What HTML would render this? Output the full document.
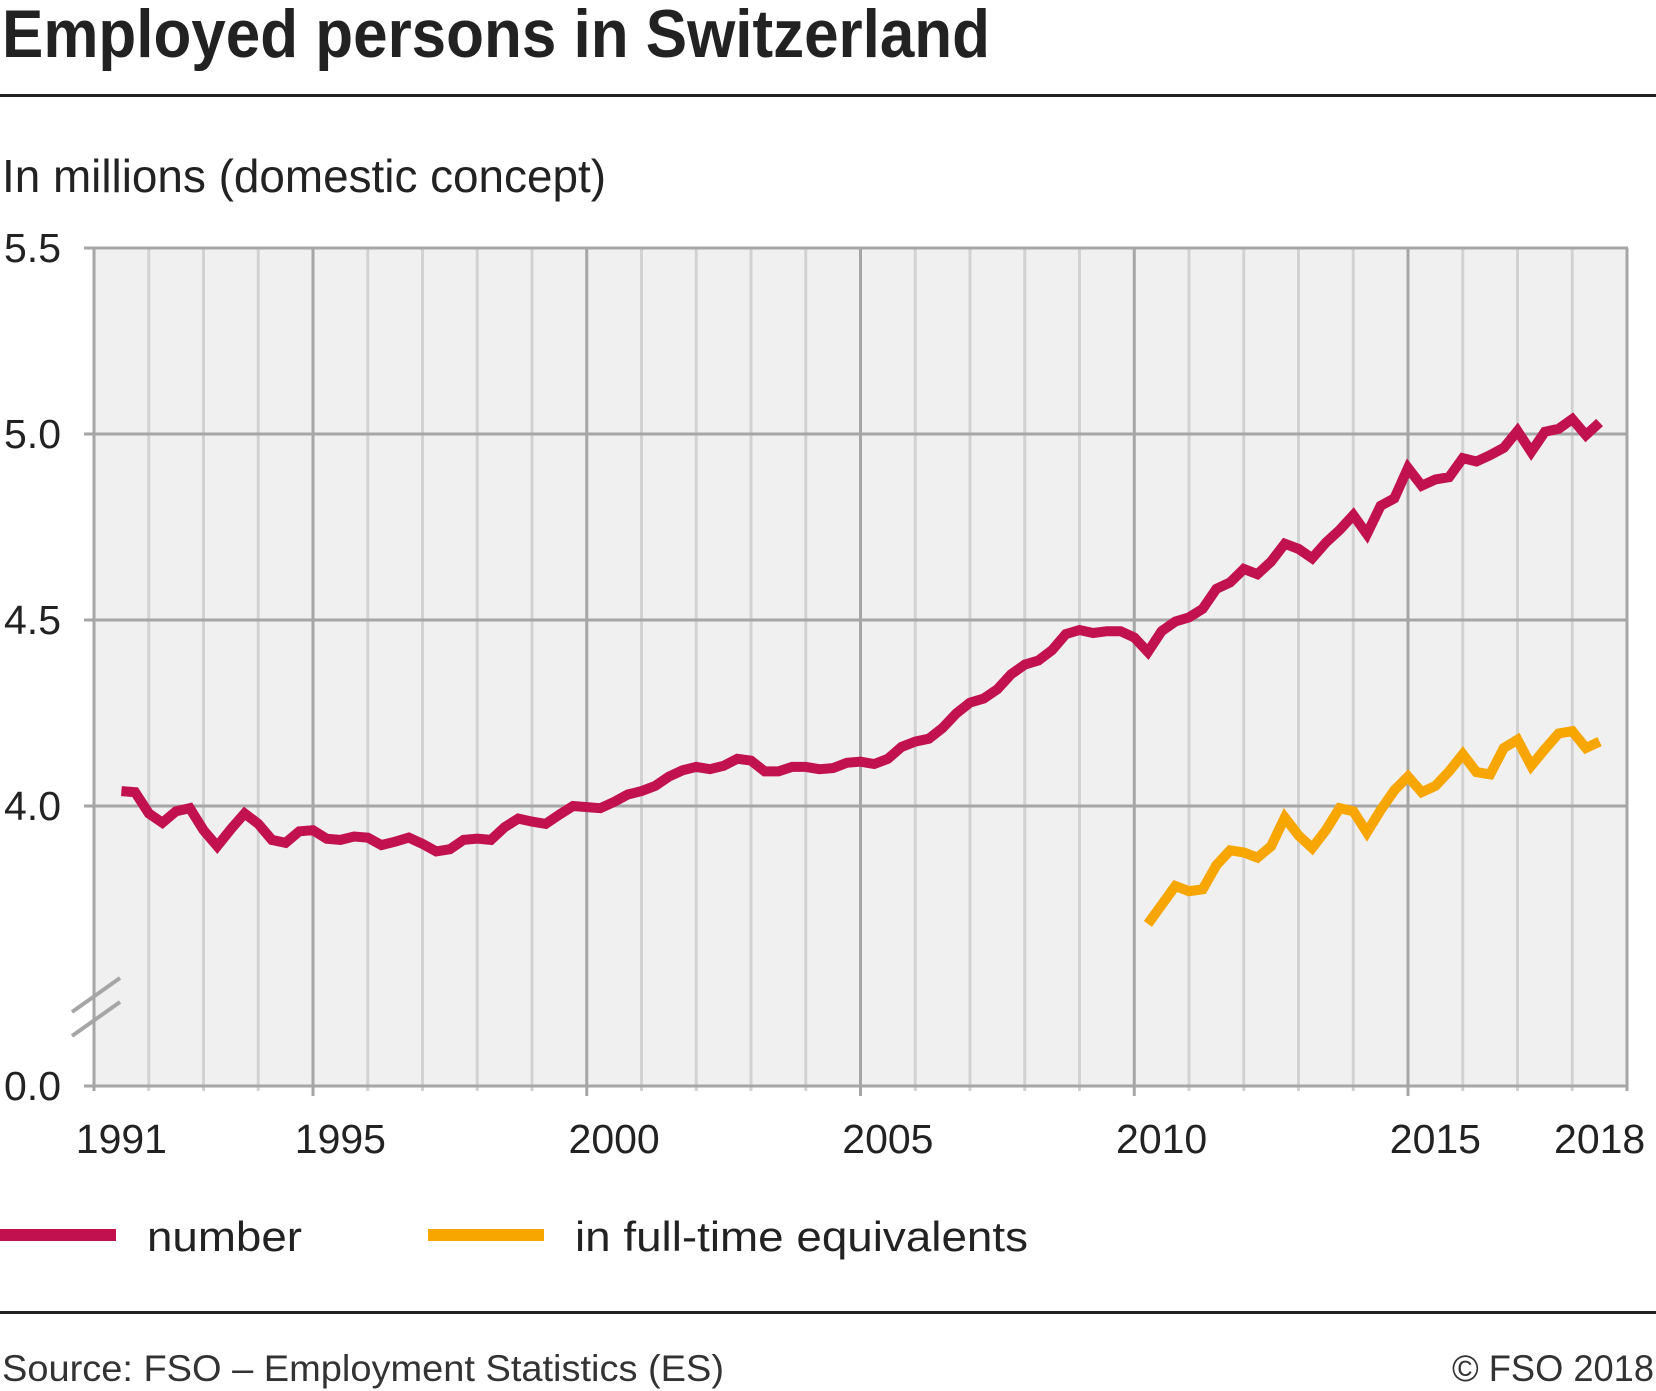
<!DOCTYPE html>
<html><head><meta charset="utf-8"><style>
html,body{margin:0;padding:0;background:#fff;}
svg{display:block;font-family:"Liberation Sans",sans-serif;}
</style></head><body>
<svg id="chart" width="1656" height="1391" viewBox="0 0 1656 1391" xmlns="http://www.w3.org/2000/svg">
<text x="2" y="57" font-size="68" font-weight="bold" fill="#222" textLength="988" lengthAdjust="spacingAndGlyphs">Employed persons in Switzerland</text>
<rect x="0" y="94" width="1656" height="3" fill="#222"/>
<text x="2" y="192" font-size="46" fill="#222" textLength="604" lengthAdjust="spacingAndGlyphs">In millions (domestic concept)</text>
<rect x="94" y="248" width="1533" height="838" fill="#f0f0f0"/>
<g id="grid"></g>
<g id="series"></g>
<g stroke="#a6a6a6" stroke-width="4">
<line x1="72" y1="1012" x2="120" y2="978"/>
<line x1="72" y1="1036" x2="120" y2="1002"/>
</g>
<g>
<rect x="0" y="1229" width="116" height="12" fill="#c2114f"/>
<text x="147" y="1251" font-size="42" fill="#222" textLength="155" lengthAdjust="spacingAndGlyphs">number</text>
<rect x="428" y="1229" width="116" height="12" fill="#f7a600"/>
<text x="575" y="1251" font-size="42" fill="#222" textLength="453" lengthAdjust="spacingAndGlyphs">in full-time equivalents</text>
</g>
<rect x="0" y="1311" width="1656" height="3" fill="#222"/>
<text x="2" y="1381" font-size="37" fill="#333" textLength="722" lengthAdjust="spacingAndGlyphs">Source: FSO – Employment Statistics (ES)</text>
<text x="1452" y="1381" font-size="37" fill="#333" textLength="202" lengthAdjust="spacingAndGlyphs">© FSO 2018</text>
</svg>
<script>
const yTicks = [0.0, 4.0, 4.5, 5.0, 5.5];
const yTickLabels = ["0.0", "4.0", "4.5", "5.0", "5.5"];
const xLabelYears = [1991, 1995, 2000, 2005, 2010, 2015, 2018];
const numberValues = [4.040,4.037,3.980,3.955,3.986,3.994,3.935,3.892,3.938,3.980,3.952,3.909,3.901,3.932,3.935,3.912,3.909,3.918,3.915,3.895,3.904,3.915,3.898,3.878,3.884,3.909,3.912,3.909,3.943,3.966,3.958,3.952,3.977,4.000,3.997,3.994,4.011,4.031,4.040,4.054,4.079,4.096,4.105,4.099,4.108,4.127,4.122,4.093,4.093,4.105,4.105,4.099,4.102,4.116,4.119,4.113,4.127,4.159,4.173,4.181,4.210,4.249,4.278,4.289,4.314,4.354,4.380,4.391,4.419,4.462,4.473,4.465,4.470,4.470,4.453,4.414,4.470,4.496,4.507,4.530,4.584,4.601,4.637,4.623,4.657,4.705,4.691,4.666,4.708,4.742,4.782,4.731,4.807,4.827,4.909,4.861,4.878,4.884,4.935,4.926,4.943,4.963,5.008,4.952,5.006,5.014,5.040,4.997,5.031];
const fteValues = [3.683,3.734,3.785,3.771,3.776,3.841,3.881,3.875,3.861,3.892,3.969,3.921,3.887,3.935,3.994,3.986,3.929,3.989,4.042,4.079,4.037,4.054,4.093,4.139,4.091,4.085,4.156,4.178,4.108,4.153,4.195,4.201,4.156,4.173];
const numberStart = 1991.5;
const fteStart = 2010.25;

const NS = "http://www.w3.org/2000/svg";
const X0 = 94, YEARW = 54.75, FIRST = 1991, LAST = 2019;
function xOf(t){ return X0 + (t - FIRST) * YEARW; }
function yOf(v){ return v < 1 ? 1086 - v * 100 : 806 - (v - 4) * 372; }
function mk(tag, attrs){ const e = document.createElementNS(NS, tag); for (const k in attrs) e.setAttribute(k, attrs[k]); return e; }
const grid = document.getElementById('grid');
for (let y = FIRST; y <= LAST; y++) {
  const major = (y % 5 === 0) || y === FIRST || y === LAST;
  const x = xOf(y);
  const l = mk('line', {x1:x, y1:248, x2:x, y2:1086 + (y % 5 === 0 ? 10 : 5), stroke: major ? '#a6a6a6' : '#d2d2d2', 'stroke-width':3});
  
  
  grid.appendChild(l);
}
yTicks.forEach((v, i) => {
  const y = yOf(v);
  const l = mk('line', {x1:84, y1:y, x2:1628, y2:y, stroke:'#a6a6a6', 'stroke-width':3});
  
  
  grid.appendChild(l);
  const t = mk('text', {x:61, y:y + 14, 'font-size':41, fill:'#222', 'text-anchor':'end'});
  
  
  t.textContent = yTickLabels[i];
  grid.appendChild(t);
});
xLabelYears.forEach(yr => {
  const t = mk('text', {x:xOf(yr + 0.5), y:1153, 'font-size':41, fill:'#222', 'text-anchor':'middle'});
  
  
  t.textContent = String(yr);
  grid.appendChild(t);
});
const series = document.getElementById('series');
function line(vals, start, color, name){
  const pts = vals.map((v, i) => xOf(start + i * 0.25).toFixed(1) + ',' + yOf(v).toFixed(1)).join(' ');
  const p = mk('polyline', {points:pts, fill:'none', stroke:color, 'stroke-width':10, 'stroke-linejoin':'miter'});
  
  
  series.appendChild(p);
}
line(fteValues, fteStart, '#f7a600', 'fte-line');
line(numberValues, numberStart, '#c2114f', 'number-line');
</script>
</body></html>
